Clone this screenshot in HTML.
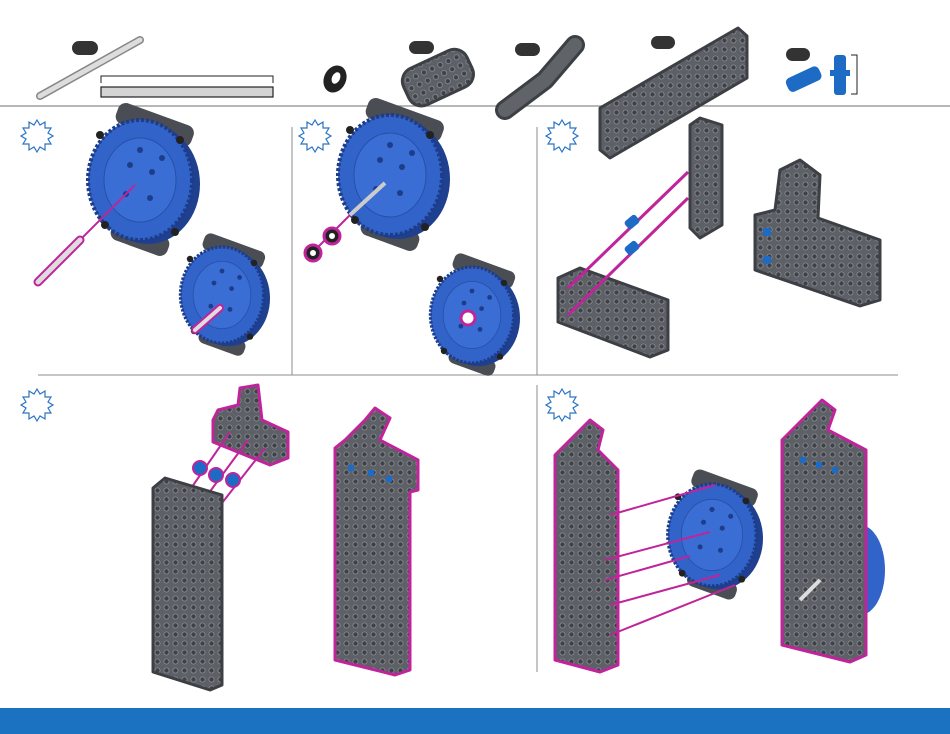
<!DOCTYPE html>
<html><head><meta charset="utf-8"><style>
html,body{margin:0;padding:0;background:#fff;}
svg{display:block}
</style></head><body>
<svg width="950" height="734" viewBox="0 0 950 734" xmlns="http://www.w3.org/2000/svg">
<defs>
<pattern id="holes" width="9" height="9" patternUnits="userSpaceOnUse">
<rect width="9" height="9" fill="#5d6167"/>
<circle cx="4.5" cy="4.5" r="2.6" fill="#3e4247" stroke="#8a8e93" stroke-width="0.8"/>
</pattern>
<g id="star"><polygon points="0,-16 3,-11 8,-14 8,-8 14,-8 11,-3 16,0 11,3 14,8 8,8 8,14 3,11 0,16 -3,11 -8,14 -8,8 -14,8 -11,3 -16,0 -11,-3 -14,-8 -8,-8 -8,-14 -3,-11" fill="#fff" stroke="#2a74c4" stroke-width="1.2"/></g>
<g id="gear">
<rect x="-45" y="-68" width="80" height="22" rx="8" fill="#4a4e54" transform="rotate(20)"/>
<rect x="-10" y="45" width="60" height="20" rx="8" fill="#4a4e54" transform="rotate(20)"/>
<ellipse cx="8" cy="4" rx="52" ry="60" fill="#1f3f8f"/>
<ellipse cx="0" cy="0" rx="52" ry="60" fill="#3263c9" stroke="#1d3d8a" stroke-width="4" stroke-dasharray="3 2"/>
<ellipse cx="0" cy="0" rx="36" ry="42" fill="#3a6ed4" stroke="#2650a8" stroke-width="1"/>
<circle cx="-10" cy="-15" r="3" fill="#1d3d8a"/><circle cx="12" cy="-8" r="3" fill="#1d3d8a"/><circle cx="-14" cy="14" r="3" fill="#1d3d8a"/><circle cx="10" cy="18" r="3" fill="#1d3d8a"/><circle cx="0" cy="-30" r="3" fill="#1d3d8a"/><circle cx="22" cy="-22" r="3" fill="#1d3d8a"/>
<circle cx="-40" cy="-45" r="4" fill="#222"/><circle cx="40" cy="-40" r="4" fill="#222"/><circle cx="-35" cy="45" r="4" fill="#222"/><circle cx="35" cy="52" r="4" fill="#222"/>
</g>
</defs>
<rect width="950" height="734" fill="#fff"/>
<!-- dividers -->
<line x1="0" y1="106" x2="950" y2="106" stroke="#8c8c8c" stroke-width="1.2"/>
<line x1="38" y1="375" x2="898" y2="375" stroke="#8c8c8c" stroke-width="1"/>
<line x1="292" y1="127" x2="292" y2="375" stroke="#8c8c8c"/>
<line x1="537" y1="127" x2="537" y2="375" stroke="#8c8c8c"/>
<line x1="537" y1="385" x2="537" y2="672" stroke="#8c8c8c"/>
<rect x="0" y="708" width="950" height="26" fill="#1a72c0"/>
<!-- top parts -->
<rect x="72" y="41" width="26" height="14" rx="7" fill="#333"/>
<line x1="40" y1="96" x2="140" y2="40" stroke="#888" stroke-width="8" stroke-linecap="round"/>
<line x1="40" y1="96" x2="140" y2="40" stroke="#ddd" stroke-width="5" stroke-linecap="round"/>
<path d="M101 83 V76 H273 V83" fill="none" stroke="#222" stroke-width="1"/>
<rect x="101" y="87" width="172" height="10" fill="#d4d4d4" stroke="#222" stroke-width="1.2"/>
<ellipse cx="335" cy="79" rx="11" ry="14" fill="#222" transform="rotate(25 335 79)"/>
<ellipse cx="336" cy="78" rx="4" ry="6" fill="#fff" transform="rotate(25 336 78)"/>
<rect x="409" y="41" width="25" height="13" rx="6.5" fill="#333"/>
<g transform="rotate(-25 437 78)"><rect x="403" y="58" width="70" height="40" rx="14" fill="url(#holes)" stroke="#3c4045" stroke-width="3"/></g>
<rect x="515" y="43" width="25" height="13" rx="6.5" fill="#333"/>
<path d="M505 110 L545 80 L575 45" fill="none" stroke="#3c4045" stroke-width="20" stroke-linecap="round" stroke-linejoin="round"/>
<path d="M505 110 L545 80 L575 45" fill="none" stroke="#606469" stroke-width="14" stroke-linecap="round" stroke-linejoin="round"/>
<rect x="651" y="36" width="24" height="13" rx="6.5" fill="#333"/>
<polygon points="600,108 738,28 747,36 747,78 610,158 600,150" fill="url(#holes)" stroke="#3c4045" stroke-width="3" stroke-linejoin="round"/>
<rect x="786" y="48" width="24" height="13" rx="6.5" fill="#333"/>
<g transform="rotate(-25 803 80)"><rect x="786" y="72" width="36" height="15" rx="5" fill="#1e6bc6"/></g>
<rect x="834" y="55" width="12" height="40" rx="3" fill="#1e6bc6"/>
<rect x="830" y="70" width="20" height="6" fill="#1e6bc6"/>
<path d="M851 55 H857 V94 H851" fill="none" stroke="#222"/>
<!-- stars -->
<use href="#star" x="37" y="136"/><use href="#star" x="315" y="136"/><use href="#star" x="562" y="136"/>
<use href="#star" x="37" y="405"/><use href="#star" x="562" y="405"/>
<!-- step 1 -->
<use href="#gear" transform="translate(140,180)"/>
<line x1="135" y1="185" x2="40" y2="280" stroke="#c0249a" stroke-width="2"/>
<line x1="80" y1="240" x2="38" y2="282" stroke="#c0249a" stroke-width="9" stroke-linecap="round"/>
<line x1="80" y1="240" x2="38" y2="282" stroke="#ddd" stroke-width="5" stroke-linecap="round"/>
<use href="#gear" transform="translate(222,295) scale(0.8)"/>
<line x1="195" y1="330" x2="220" y2="308" stroke="#c0249a" stroke-width="8" stroke-linecap="round"/>
<line x1="195" y1="330" x2="220" y2="308" stroke="#ddd" stroke-width="4" stroke-linecap="round"/>
<!-- step 2 -->
<use href="#gear" transform="translate(390,175)"/>
<line x1="385" y1="183" x2="350" y2="215" stroke="#ccc" stroke-width="4"/>
<line x1="350" y1="215" x2="312" y2="253" stroke="#c0249a" stroke-width="2"/>
<circle cx="332" cy="236" r="8" fill="#222" stroke="#c0249a" stroke-width="3"/><circle cx="332" cy="236" r="3" fill="#fff"/>
<circle cx="313" cy="253" r="8" fill="#222" stroke="#c0249a" stroke-width="3"/><circle cx="313" cy="253" r="3" fill="#fff"/>
<use href="#gear" transform="translate(472,315) scale(0.8)"/>
<circle cx="468" cy="318" r="7" fill="#fff" stroke="#c0249a" stroke-width="3"/>
<!-- step 3 -->
<path d="M690 125 L700 118 L722 125 V225 L700 238 L690 228 Z" fill="url(#holes)" stroke="#3c4045" stroke-width="3" stroke-linejoin="round"/>
<path d="M558 278 L580 268 L668 300 V350 L650 357 L558 322 Z" fill="url(#holes)" stroke="#3c4045" stroke-width="3" stroke-linejoin="round"/>
<line x1="568" y1="288" x2="688" y2="172" stroke="#c0249a" stroke-width="3"/>
<line x1="568" y1="315" x2="688" y2="198" stroke="#c0249a" stroke-width="3"/>
<rect x="625" y="217" width="14" height="10" rx="3" fill="#1e6bc6" transform="rotate(-40 632 222)"/>
<rect x="625" y="243" width="14" height="10" rx="3" fill="#1e6bc6" transform="rotate(-40 632 248)"/>
<path d="M755 215 L775 210 L780 170 L800 160 L820 175 L818 218 L880 240 V300 L860 306 L755 270 Z" fill="url(#holes)" stroke="#3c4045" stroke-width="3" stroke-linejoin="round"/>
<rect x="763" y="228" width="8" height="8" rx="2" fill="#1e6bc6"/><rect x="763" y="256" width="8" height="8" rx="2" fill="#1e6bc6"/>
<!-- step 4 -->
<path d="M213 420 L218 410 L238 405 L240 388 L258 385 L262 420 L288 432 V458 L270 465 L213 442 Z" fill="url(#holes)" stroke="#c0249a" stroke-width="3" stroke-linejoin="round"/>
<line x1="185" y1="497" x2="230" y2="432" stroke="#c0249a" stroke-width="2"/>
<line x1="200" y1="505" x2="248" y2="440" stroke="#c0249a" stroke-width="2"/>
<line x1="215" y1="512" x2="265" y2="448" stroke="#c0249a" stroke-width="2"/>
<circle cx="200" cy="468" r="7" fill="#1e6bc6" stroke="#c0249a" stroke-width="2"/>
<circle cx="216" cy="475" r="7" fill="#1e6bc6" stroke="#c0249a" stroke-width="2"/>
<circle cx="233" cy="480" r="7" fill="#1e6bc6" stroke="#c0249a" stroke-width="2"/>
<path d="M153 488 L165 478 L222 495 V685 L210 690 L153 672 Z" fill="url(#holes)" stroke="#3c4045" stroke-width="3" stroke-linejoin="round"/>
<path d="M335 448 L345 440 L365 420 L375 408 L390 418 L380 440 L418 460 V490 L410 492 V670 L395 675 L335 660 Z" fill="url(#holes)" stroke="#c0249a" stroke-width="3" stroke-linejoin="round"/>
<rect x="348" y="465" width="6" height="6" fill="#1e6bc6"/><rect x="368" y="470" width="6" height="6" fill="#1e6bc6"/><rect x="386" y="476" width="6" height="6" fill="#1e6bc6"/>
<!-- step 5 -->
<use href="#gear" transform="translate(712,535) scale(0.85)"/>
<path d="M555 455 L565 445 L580 430 L590 420 L603 430 L598 450 L618 470 V665 L600 672 L555 660 Z" fill="url(#holes)" stroke="#c0249a" stroke-width="3" stroke-linejoin="round"/>
<line x1="610" y1="515" x2="715" y2="485" stroke="#c0249a" stroke-width="2"/>
<line x1="605" y1="560" x2="710" y2="532" stroke="#c0249a" stroke-width="2"/>
<line x1="605" y1="580" x2="690" y2="556" stroke="#c0249a" stroke-width="2"/>
<line x1="610" y1="605" x2="720" y2="575" stroke="#c0249a" stroke-width="2"/>
<line x1="610" y1="635" x2="735" y2="585" stroke="#c0249a" stroke-width="2"/>
<ellipse cx="860" cy="570" rx="25" ry="45" fill="#3263c9"/>
<path d="M782 440 L792 430 L810 412 L822 400 L835 410 L828 430 L866 450 V655 L850 662 L782 645 Z" fill="url(#holes)" stroke="#c0249a" stroke-width="3" stroke-linejoin="round"/>
<rect x="800" y="457" width="6" height="6" fill="#1e6bc6"/><rect x="816" y="462" width="6" height="6" fill="#1e6bc6"/><rect x="832" y="467" width="6" height="6" fill="#1e6bc6"/>
<line x1="800" y1="600" x2="820" y2="580" stroke="#ddd" stroke-width="4"/>
</svg>
</body></html>
